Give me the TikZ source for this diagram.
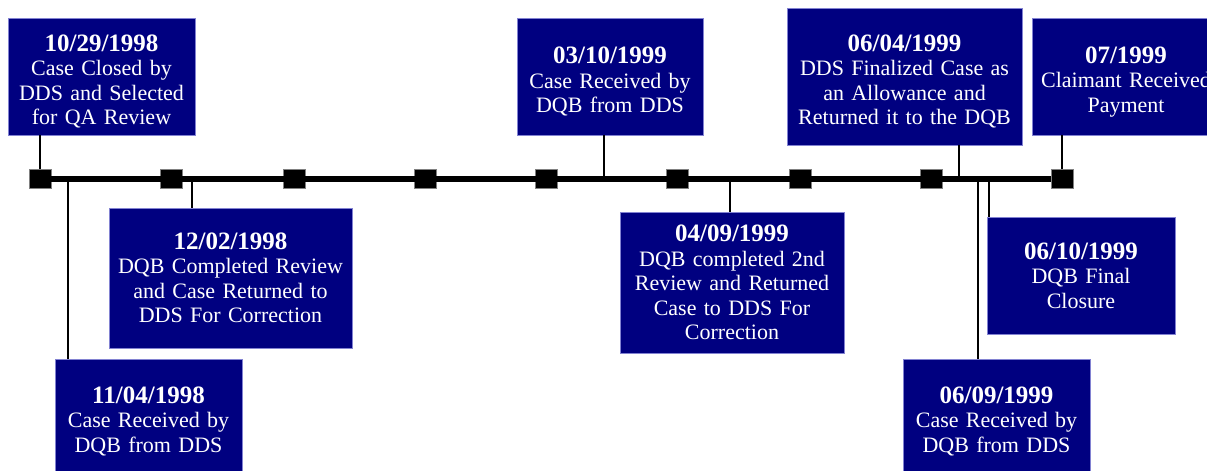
\documentclass[tikz,border=0pt]{standalone}
\usepackage{fontspec}
\setmainfont{Liberation Serif}
\definecolor{boxblue}{RGB}{0,0,128}
\definecolor{boxrim}{RGB}{130,130,210}
\newcommand{\evdate}[1]{{\bfseries\fontsize{25}{24.5}\selectfont #1}}
% top row: date sits a little lower in its box
\newcommand{\evdatetop}[1]{\evdate{\rule{0pt}{27pt}#1}}
\tikzset{evbox/.style 2 args={minimum width=#1pt,text width=#1pt,minimum height=#2pt}}

\begin{document}
\begin{tikzpicture}[x=1pt,y=-1pt]
    \useasboundingbox (0,0) rectangle (1207,471);

        % markers on the line, use the tuple for location
        \begin{scope}[every node/.style={rectangle,fill=black,draw=gray,very thin,minimum width=22pt,minimum height=19pt,inner sep=0pt}]
        \node (s1) at (40,179) {};
        \node (s2) at (171,179) {};
        \node (s3) at (294,179) {};
        \node (s4) at (425,179) {};
        \node (s5) at (546,179) {};
        \node (s6) at (677,179) {};
        \node (s7) at (800,179) {};
        \node (s8) at (931,179) {};
        \node (s9) at (1062,179) {};
        \end{scope}

        % where the boxes join the line
        \coordinate (t1104) at (68,179);
        \coordinate (t1202) at (192,179);
        \coordinate (t0310) at (604,179);
        \coordinate (t0409) at (730,179);
        \coordinate (t0604) at (959,179);
        \coordinate (t0609) at (978,179);
        \coordinate (t0610) at (989,179);

        % event boxes
        \begin{scope}[every node/.style={rectangle,fill=boxblue,draw=boxrim,thin,text=white,inner sep=0pt,align=center,font=\fontsize{22}{24.5}\selectfont}]
        \node[evbox={187}{117}] (b1029) at (101.5,76.5) {\evdatetop{10/29/1998}\\Case Closed by\\DDS and Selected\\for QA Review};
        \node[evbox={187}{124}] (b1104) at (148.5,421) {\evdate{11/04/1998}\\Case Received by\\DQB from DDS};
        \node[evbox={243}{140}] (b1202) at (230.5,278) {\evdate{12/02/1998}\\DQB Completed Review\\and Case Returned to\\DDS For Correction};
        \node[evbox={186}{117}] (b0310) at (610,76.5) {\evdatetop{03/10/1999}\\Case Received by\\DQB from DDS};
        \node[evbox={224}{141}] (b0409) at (732,282.5) {\evdate{04/09/1999}\\DQB completed 2nd\\Review and Returned\\Case to DDS For\\Correction};
        \node[evbox={235}{137}] (b0604) at (904.5,76.5) {\evdatetop{06/04/1999}\\DDS Finalized Case as\\an Allowance and\\Returned it to the DQB};
        \node[evbox={187}{124}] (b0609) at (996.5,421) {\evdate{06/09/1999}\\Case Received by\\DQB from DDS};
        \node[evbox={188}{117}] (b0610) at (1081,275.5) {\evdate{06/10/1999}\\DQB Final\\Closure};
        \node[evbox={188}{117}] (b07) at (1126,76.5) {\evdatetop{07/1999}\\Claimant Received\\Payment};
        \end{scope}

        % the line and the ticks
        \begin{scope}[every edge/.style={draw=black,line width=2pt}]
        \path [-] (s1) edge[line width=6pt] (s9);
        \path [-] (b1029.south -| s1) edge (s1);
        \path [-] (b1104.north -| t1104) edge (t1104);
        \path [-] (b1202.north -| t1202) edge (t1202);
        \path [-] (b0310.south -| t0310) edge (t0310);
        \path [-] (b0409.north -| t0409) edge (t0409);
        \path [-] (b0604.south -| t0604) edge (t0604);
        \path [-] (b0609.north -| t0609) edge (t0609);
        \path [-] (b0610.north -| t0610) edge (t0610);
        \path [-] (b07.south -| s9) edge (s9);
        \end{scope}

\end{tikzpicture}
\end{document}
